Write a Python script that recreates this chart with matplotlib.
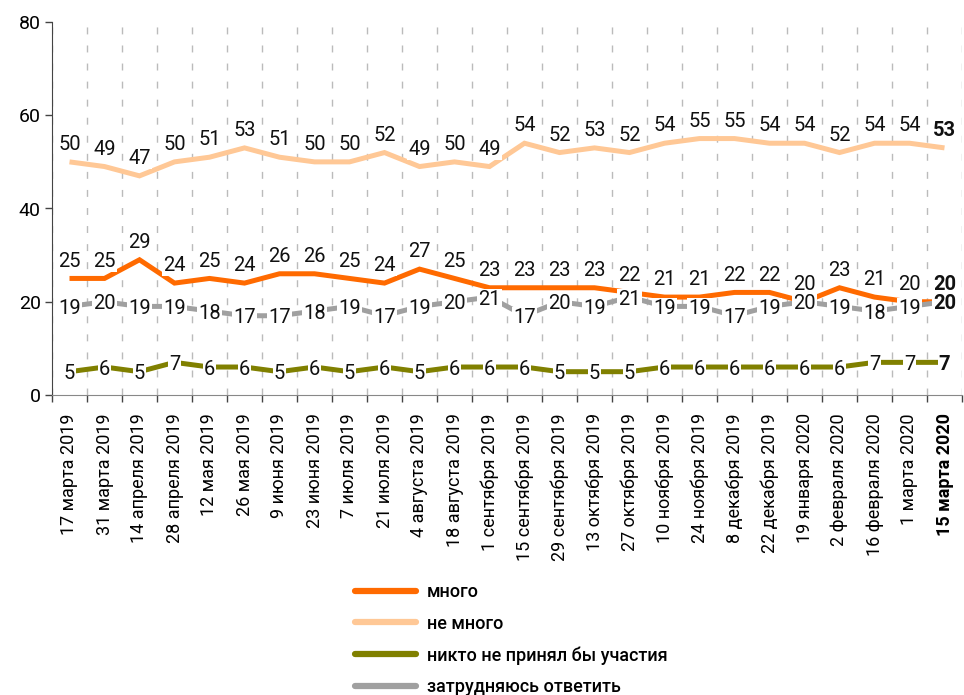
import matplotlib
matplotlib.use("Agg")
import matplotlib.pyplot as plt
from matplotlib.ticker import FixedLocator

plt.rcParams['font.family'] = ['Roboto', 'DejaVu Sans']

dates = ["17 марта 2019", "31 марта 2019", "14 апреля 2019", "28 апреля 2019",
         "12 мая 2019", "26 мая 2019", "9 июня 2019", "23 июня 2019",
         "7 июля 2019", "21 июля 2019", "4 августа 2019", "18 августа 2019",
         "1 сентября 2019", "15 сентября 2019", "29 сентября 2019",
         "13 октября 2019", "27 октября 2019", "10 ноября 2019",
         "24 ноября 2019", "8 декабря 2019", "22 декабря 2019",
         "19 января 2020", "2 февраля 2020", "16 февраля 2020",
         "1 марта 2020", "15 марта 2020"]

mnogo = [25, 25, 29, 24, 25, 24, 26, 26, 25, 24, 27, 25, 23, 23, 23, 23, 22,
         21, 21, 22, 22, 20, 23, 21, 20, 20]
ne_mnogo = [50, 49, 47, 50, 51, 53, 51, 50, 50, 52, 49, 50, 49, 54, 52, 53, 52,
            54, 55, 55, 54, 54, 52, 54, 54, 53]
nikto = [5, 6, 5, 7, 6, 6, 5, 6, 5, 6, 5, 6, 6, 6, 5, 5, 5, 6, 6, 6, 6, 6, 6,
         7, 7, 7]
zatr = [19, 20, 19, 19, 18, 17, 17, 18, 19, 17, 19, 20, 21, 17, 20, 19, 21, 19,
        19, 17, 19, 20, 19, 18, 19, 20]

series = [
    ("много", mnogo, "#FF6A00", 'above'),
    ("не много", ne_mnogo, "#FFC896", 'above'),
    ("никто не принял бы участия", nikto, "#808000", 'center'),
    ("затрудняюсь ответить", zatr, "#A0A0A0", 'center'),
]

fig = plt.figure(figsize=(9.64, 6.95), dpi=100)
ax = fig.add_axes([52/964, 300/695, 910/964, 373/695])

x = list(range(len(dates)))
n = len(dates)
for i, (name, vals, col, pos) in enumerate(series):
    ax.plot(x, vals, color=col, lw=3.6, label=name, zorder=2 + i,
            solid_capstyle='butt', solid_joinstyle='miter')

for i, (name, vals, col, pos) in enumerate(series):
    for j, v in enumerate(vals):
        last = (j == n - 1)
        if pos == 'above':
            off = (0, 12.5)
        else:
            off = (0, -1.5)
        ax.annotate(str(v), (j, v), xytext=off, textcoords='offset points',
                    ha='center', va='center', fontsize=14.5,
                    fontweight='bold' if last else 'normal', color='#111111',
                    bbox=dict(boxstyle='square,pad=0.05', fc='white', ec='none'),
                    zorder=10)

ax.set_xlim(-0.5, n - 0.5)
ax.set_ylim(0, 80)
ax.set_yticks([0, 20, 40, 60, 80])
ax.tick_params(axis='y', labelsize=14, length=5, width=1, color='#444444',
               direction='out', pad=3)

ax.set_xticks(x)
ax.set_xticklabels(dates, rotation=90, fontsize=13, va='top', ha='center')
ax.xaxis.set_minor_locator(FixedLocator([k - 0.5 for k in range(n + 1)]))
ax.tick_params(axis='x', which='major', length=0, pad=13)
ax.tick_params(axis='x', which='minor', length=5, width=1, color='#444444',
               direction='out')
ax.get_xticklabels()[-1].set_fontweight('bold')

ax.grid(axis='x', which='minor', color='#BBBBBB', linestyle=(0, (5, 8)), lw=1)
ax.set_axisbelow(True)

for s in ['top', 'right']:
    ax.spines[s].set_visible(False)
ax.spines['left'].set_color('#444444')
ax.spines['bottom'].set_color('#888888')

leg = fig.legend(loc='upper left', bbox_to_anchor=(355/964, (695 - 583)/695),
                 frameon=False, prop={'size': 13, 'weight': 'medium'},
                 handlelength=3.4, handletextpad=0.6, labelspacing=0.75,
                 borderpad=0, borderaxespad=0)
for line in leg.get_lines():
    line.set_linewidth(4.5)
    line.set_solid_capstyle('round')

fig.savefig("out.png", dpi=100)
